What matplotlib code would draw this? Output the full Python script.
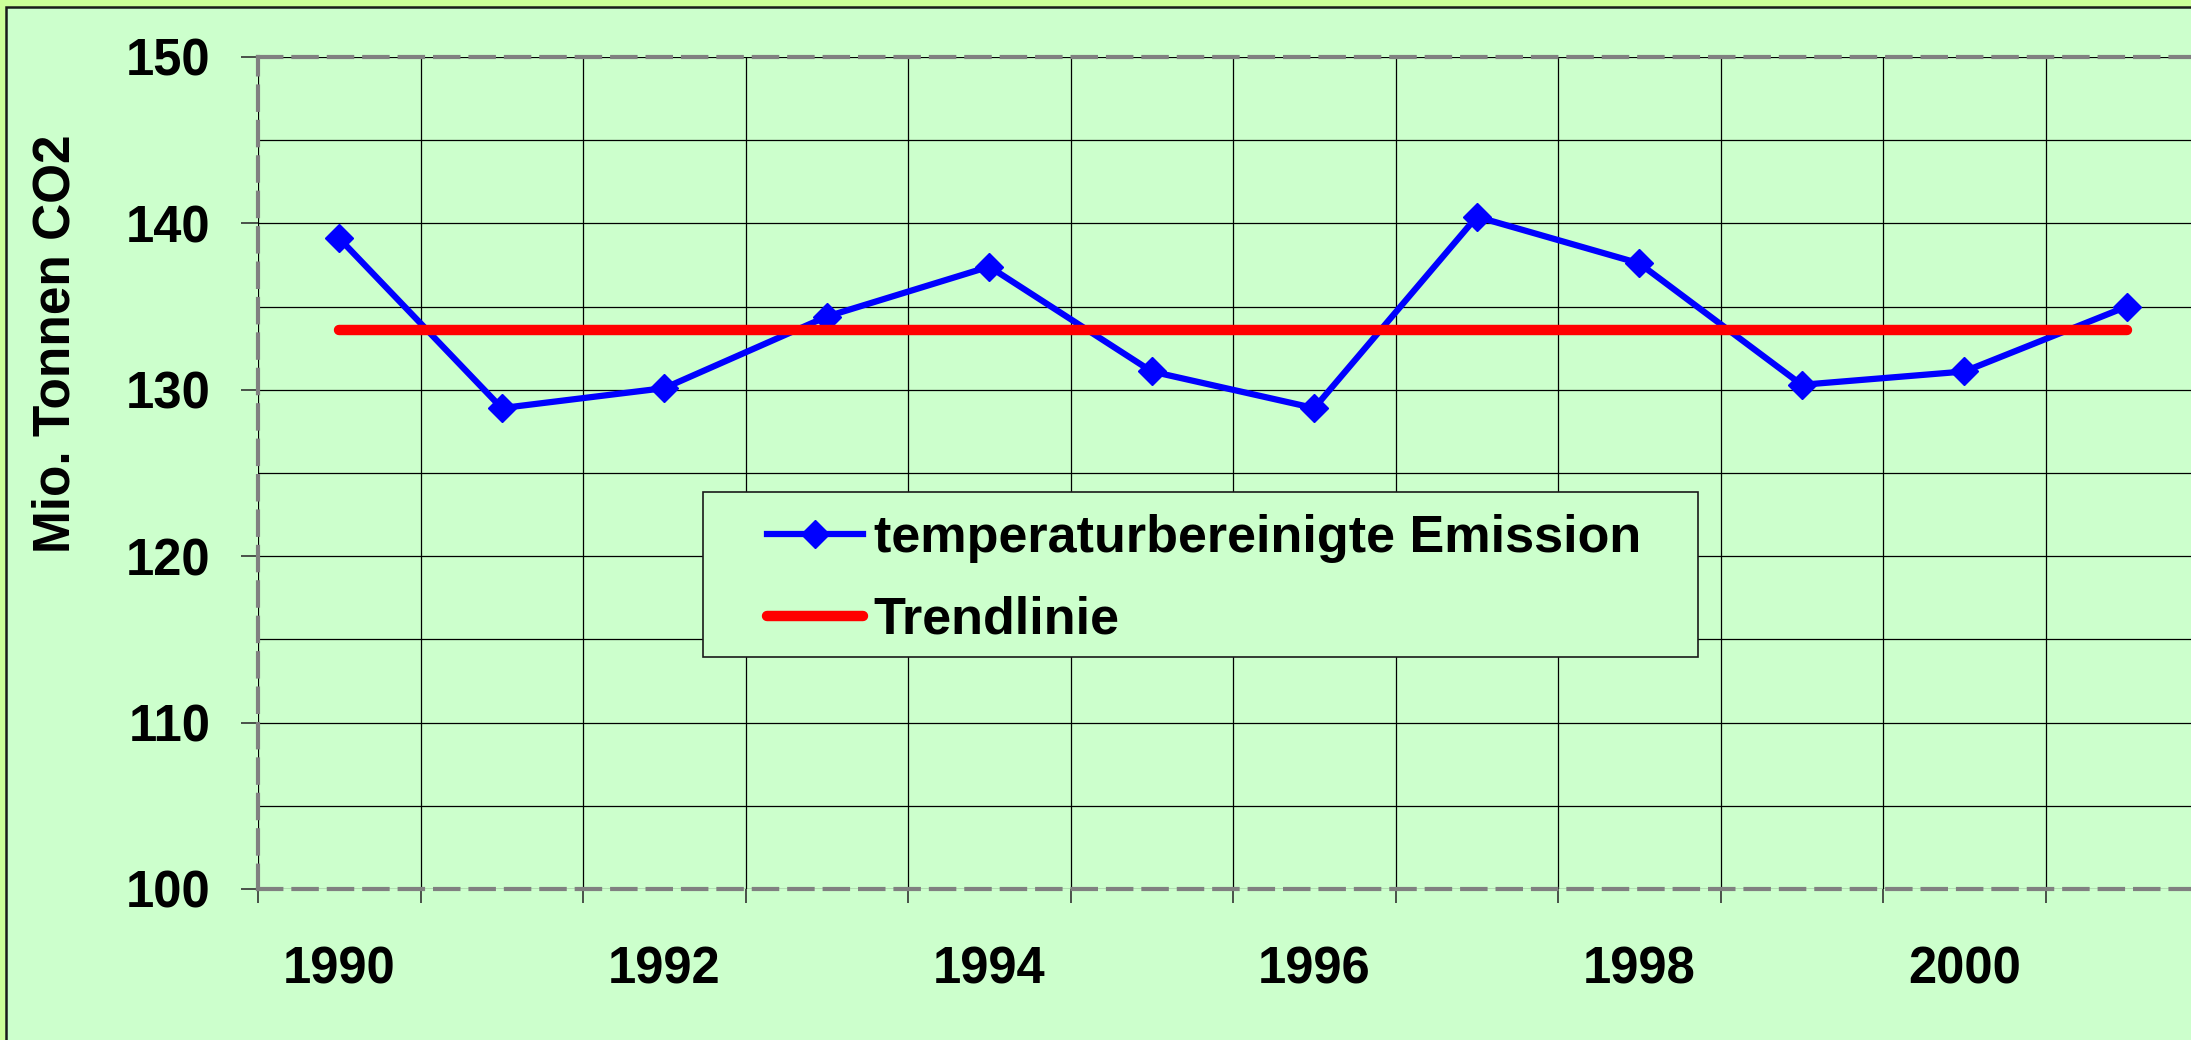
import numpy as np
import matplotlib.pyplot as plt
from matplotlib.patches import Rectangle
from matplotlib.ticker import FixedLocator, MultipleLocator

plt.rcParams['font.family'] = ['Liberation Sans', 'DejaVu Sans']
plt.rcParams['font.weight'] = 'bold'

# data
years = [1990, 1991, 1992, 1993, 1994, 1995, 1996, 1997, 1998, 1999, 2000, 2001]
emission = [139.1, 128.9, 130.1, 134.4, 137.4, 131.1, 128.9, 140.4, 137.6, 130.3, 131.1, 135.0]
trend = [133.6] * len(years)
label_years = ['1990', '1992', '1994', '1996', '1998', '2000']
series_names = ['temperaturbereinigte Emission', 'Trendlinie']
ylabel = 'Mio. Tonnen CO2'

W, H = 2191, 1040
fig = plt.figure(figsize=(W / 100, H / 100), dpi=100)
fig.patch.set_facecolor('#CCFF99')

# inner chart area (cropped at right / bottom in the reference)
fig.patches.append(Rectangle((6 / W, -0.05), 1.1, 1 - 7 / H + 0.05, transform=fig.transFigure,
                             facecolor='#CCFFCC', edgecolor='#1a1a1a', linewidth=1.8, zorder=-1))

ax = fig.add_axes([258 / W, 151 / H, 1950 / W, 832 / H])
ax.set_facecolor('#CCFFCC')

x = np.arange(len(years))
ax.plot(x, emission, color='#0000FF', linewidth=4.5, marker='D', markersize=14.5,
        markeredgewidth=1, markeredgecolor='#0000FF', label=series_names[0], zorder=3)
ax.plot(x, trend, color='#FF0000', linewidth=7.5, solid_capstyle='round',
        label=series_names[1], zorder=3)

ax.set_xlim(-0.5, len(years) - 0.5)
ax.set_ylim(100, 150)

# x: grid at category boundaries, labels every other year at centers
ax.xaxis.set_major_locator(FixedLocator(np.arange(len(years) + 1) - 0.5))
ax.xaxis.set_major_formatter(plt.NullFormatter())
ax.set_xticks(x[::2], label_years, minor=True)
ax.tick_params(axis='x', which='major', direction='out', length=10, width=1.2, color='#333333')
ax.tick_params(axis='x', which='minor', length=0, pad=41, labelsize=36.5)

# y
ax.yaxis.set_major_locator(MultipleLocator(10))
ax.yaxis.set_minor_locator(MultipleLocator(5))
ax.tick_params(axis='y', which='major', direction='out', length=12, width=1.2, color='#333333',
               pad=22, labelsize=36.5)
ax.tick_params(axis='y', which='minor', length=0)

ax.grid(True, which='major', axis='x', color='#000000', linewidth=0.9)
ax.grid(True, which='both', axis='y', color='#000000', linewidth=0.9)
ax.set_axisbelow(True)

for s in ax.spines.values():
    s.set_color('#808080')
    s.set_linewidth(3)
    s.set_linestyle((0, (5.6, 2.9)))

ax.set_ylabel(ylabel, fontsize=37, fontweight='bold')
ax.yaxis.set_label_coords(-0.091, 0.655)

# legend box
ax.add_patch(Rectangle((703 / W, (H - 657) / H), 995 / W, 165 / H, transform=fig.transFigure,
                       facecolor='#CCFFCC', edgecolor='#1a1a1a', linewidth=1.2, zorder=5))
leg = ax.legend(loc='upper left', bbox_to_anchor=(767 / W, (H - 514) / H),
                bbox_transform=fig.transFigure, frameon=False, fontsize=37.5, numpoints=1,
                handlelength=1.85, handletextpad=0.2, labelspacing=0.63,
                borderpad=0, borderaxespad=0)
leg.set_zorder(6)
for t in leg.get_texts():
    t.set_fontweight('bold')

fig.savefig('out.png', dpi=100, facecolor=fig.get_facecolor())
